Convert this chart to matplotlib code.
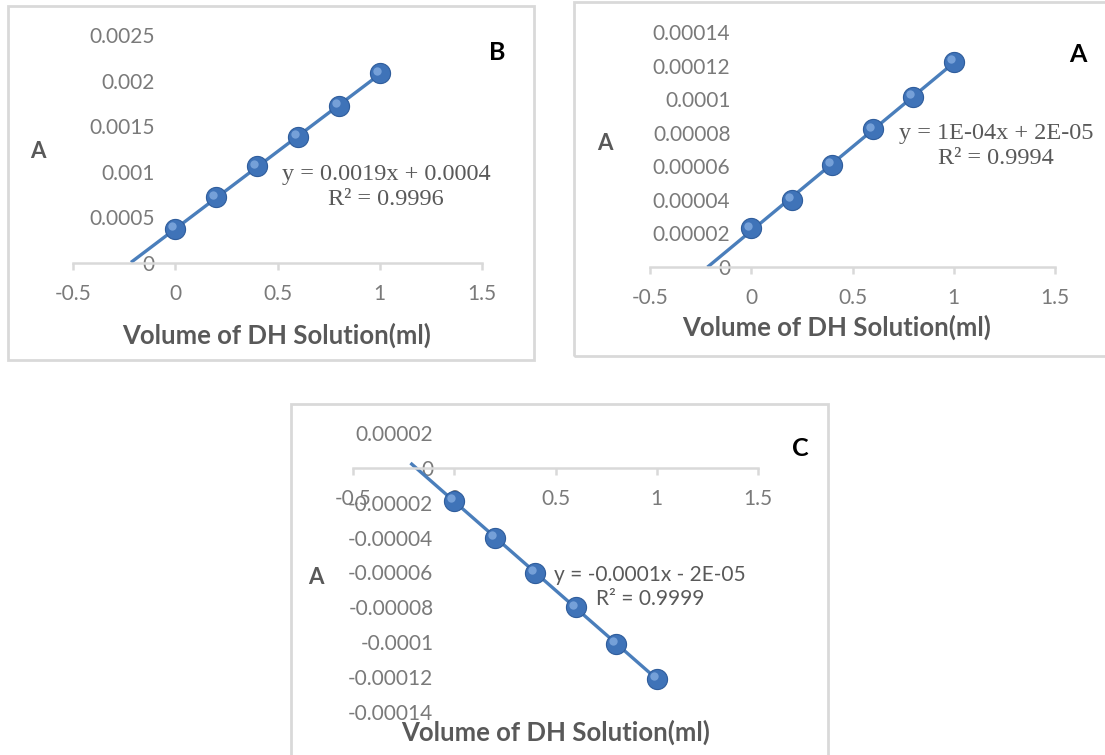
import matplotlib
matplotlib.use("Agg")
import matplotlib.pyplot as plt
from matplotlib.patches import Rectangle
from matplotlib.transforms import ScaledTranslation
import numpy as np

# data
volume = [0, 0.2, 0.4, 0.6, 0.8, 1.0]
abs_b = [0.00037, 0.00072, 0.00106, 0.00138, 0.00172, 0.00208]
abs_a = [0.000023, 0.000040, 0.000061, 0.000082, 0.0001015, 0.000122]
abs_c = [-0.000019, -0.000040, -0.000060, -0.000080, -0.000101, -0.000121]

xticks = [-0.5, 0, 0.5, 1, 1.5]
yticks_b = [0, 0.0005, 0.001, 0.0015, 0.002, 0.0025]
ylabels_b = ["0", "0.0005", "0.001", "0.0015", "0.002", "0.0025"]
yticks_a = [0, 0.00002, 0.00004, 0.00006, 0.00008, 0.0001, 0.00012, 0.00014]
ylabels_a = ["0", "0.00002", "0.00004", "0.00006", "0.00008", "0.0001", "0.00012", "0.00014"]
yticks_c = [-0.00014, -0.00012, -0.0001, -0.00008, -0.00006, -0.00004, -0.00002, 0, 0.00002]
ylabels_c = ["-0.00014", "-0.00012", "-0.0001", "-0.00008", "-0.00006", "-0.00004", "-0.00002", "0", "0.00002"]

eq_b = ["y = 0.0019x + 0.0004", "R² = 0.9996"]
eq_a = ["y = 1E-04x + 2E-05", "R² = 0.9994"]
eq_c = ["y = -0.0001x - 2E-05", "R² = 0.9999"]

W, H = 1105, 755
GREY = "#595959"
TICKGREY = "#7a7a7a"
LINE = "#d9d9d9"
BLUE = "#4a7ebb"

fig = plt.figure(figsize=(W / 100, H / 100), dpi=100)


def fx(px):
    return px / W


def fy(py):
    return 1 - py / H


def frame(x0, y0, x1, y1):
    fig.patches.append(Rectangle((fx(x0), fy(y1)), fx(x1 - x0), (y1 - y0) / H,
                                 transform=fig.transFigure, fill=False,
                                 edgecolor=LINE, lw=2))


def panel(box, ylim, yt, yl, yvals, letter, letter_xy, ylab_xy, xlab_xy,
          eq, eq_xy, eq_font, eq_size):
    x0, x1, ytop, ybot = box  # pixel positions of xlim/ylim ends
    ax = fig.add_axes([fx(x0), fy(ybot), fx(x1 - x0), (ybot - ytop) / H])
    ax.set_xlim(-0.5, 1.5)
    ax.set_ylim(*ylim)
    for s in ["top", "right"]:
        ax.spines[s].set_visible(False)
    ax.spines["left"].set_position(("data", 0))
    ax.spines["left"].set_visible(False)
    ax.spines["bottom"].set_position(("data", 0))
    ax.spines["bottom"].set_color(LINE)
    ax.spines["bottom"].set_linewidth(1.8)
    ax.set_xticks(xticks)
    ax.set_xticklabels([f"{t:g}" for t in xticks])
    ax.set_yticks(yt)
    ax.set_yticklabels(yl)
    ax.tick_params(axis="x", direction="out", length=5, width=1.8, color=LINE,
                   pad=10, labelsize=15, labelcolor=TICKGREY)
    ax.tick_params(axis="y", length=0, pad=15, labelsize=15, labelcolor=TICKGREY)
    for lab in ax.get_xticklabels() + ax.get_yticklabels():
        lab.set_family("Lato")
    ax.patch.set_alpha(0)

    # linear trendline with backward forecast
    k, b = np.polyfit(volume, yvals, 1)
    xs = np.array([-0.21, 1.0])
    ax.plot(xs, k * xs + b, color=BLUE, lw=2.4, zorder=2, clip_on=False)
    ax.plot(volume, yvals, "o", ms=14.5, color="#3f73b8", mec="#2f5d9c", mew=0.8,
            zorder=3, clip_on=False)
    shift = ax.transData + ScaledTranslation(-2 / 72, 2 / 72, fig.dpi_scale_trans)
    ax.plot(volume, yvals, "o", ms=6, color="#8db4e6", mew=0, alpha=0.7,
            zorder=4, clip_on=False, transform=shift)

    fig.text(fx(letter_xy[0]), fy(letter_xy[1]), letter, ha="center", va="center",
             fontsize=18, fontweight="bold", family="Lato", color="black")
    fig.text(fx(ylab_xy[0]), fy(ylab_xy[1]), "A", ha="center", va="center",
             fontsize=16, fontweight="bold", family="Lato", color=GREY)
    fig.text(fx(xlab_xy[0]), fy(xlab_xy[1]), "Volume of DH Solution(ml)",
             ha="center", va="center", fontsize=18.5, fontweight="bold",
             family="Lato", color=GREY)
    fig.text(fx(eq_xy[0]), fy(eq_xy[1]), eq[0] + "\n" + eq[1], ha="center",
             va="center", fontsize=eq_size, family=eq_font, color=GREY,
             linespacing=1.3)
    return ax


frame(8, 6, 534, 360)
frame(574, 2, 1112, 356)
frame(291, 404, 828, 762)

panel((73, 482, 35, 263), (0, 0.0025), yticks_b, ylabels_b, abs_b, "B",
      (497, 52), (38, 152), (277, 335), eq_b, (386, 187), "Liberation Serif", 17.5)
panel((650, 1055, 32, 267), (0, 0.00014), yticks_a, ylabels_a, abs_a, "A",
      (1078, 55), (605, 143), (837, 327), eq_a, (996, 146), "Liberation Serif", 17.5)
panel((353, 758, 433, 712), (-0.00014, 0.00002), yticks_c, ylabels_c, abs_c, "C",
      (800, 449), (316, 577), (556, 732), eq_c, (650, 587), "Lato", 15)

fig.savefig("out.png", dpi=100)
